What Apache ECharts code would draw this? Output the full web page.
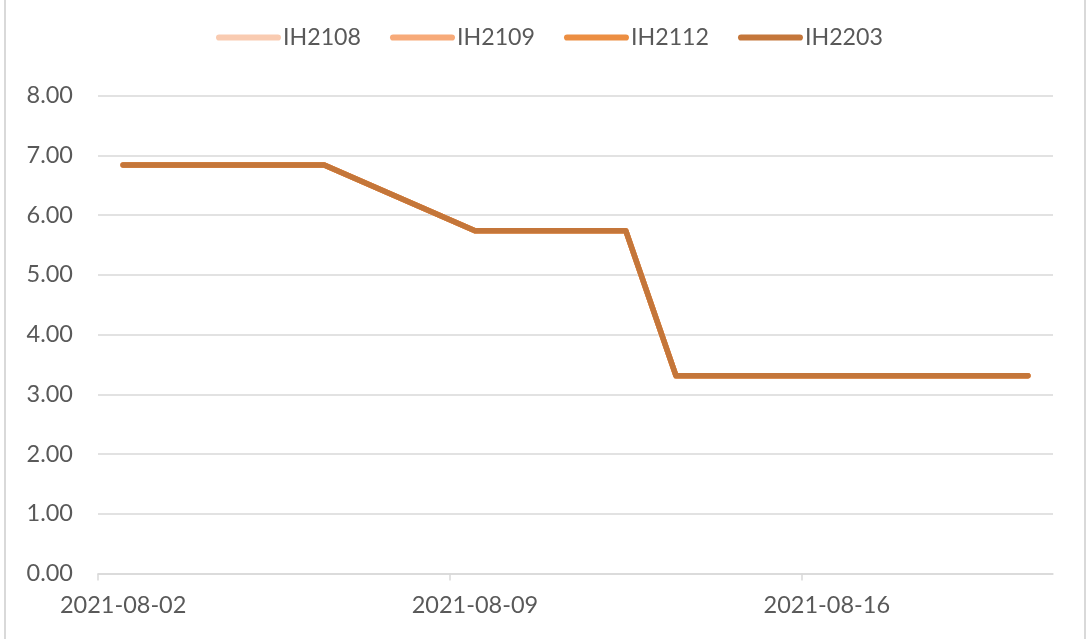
<!DOCTYPE html>
<html>
<head>
<meta charset="utf-8">
<script src="https://cdn.jsdelivr.net/npm/echarts@6/dist/echarts.min.js"></script>
<style>
  html, body { margin: 0; padding: 0; background: #fff; }
  #wrap { position: relative; width: 1086px; height: 639px; overflow: hidden; }
  #chart { position: absolute; left: 0; top: 0; width: 1086px; height: 639px; }
  .edge { position: absolute; top: 0; bottom: 0; width: 2px; background: #d9d9d9; }
</style>
</head>
<body>
<div id="wrap">
  <div id="chart"></div>
  <div class="edge" style="left:4px"></div>
  <div class="edge" style="left:1084px"></div>
</div>
<script>
// Calendar days on the date axis (weekends carry no data)
const categories = [
  '2021-08-02','2021-08-03','2021-08-04','2021-08-05','2021-08-06','2021-08-07','2021-08-08',
  '2021-08-09','2021-08-10','2021-08-11','2021-08-12','2021-08-13','2021-08-14','2021-08-15',
  '2021-08-16','2021-08-17','2021-08-18','2021-08-19','2021-08-20'
];
const seriesNames = ['IH2108', 'IH2109', 'IH2112', 'IH2203'];
const valuesIH2108 = [6.84,6.84,6.84,6.84,6.84,null,null,5.74,5.74,5.74,5.74,3.31,null,null,3.31,3.31,3.31,3.31,3.31];
const valuesIH2109 = [6.84,6.84,6.84,6.84,6.84,null,null,5.74,5.74,5.74,5.74,3.31,null,null,3.31,3.31,3.31,3.31,3.31];
const valuesIH2112 = [6.84,6.84,6.84,6.84,6.84,null,null,5.74,5.74,5.74,5.74,3.31,null,null,3.31,3.31,3.31,3.31,3.31];
const valuesIH2203 = [6.84,6.84,6.84,6.84,6.84,null,null,5.74,5.74,5.74,5.74,3.31,null,null,3.31,3.31,3.31,3.31,3.31];
const seriesColors = ['#F9CBB1', '#F7AA79', '#EC8E42', '#C4763A'];
const yTicks = { min: 0, max: 8, interval: 1 };
// week boundaries (day offsets from 2021-08-02) where the date axis has tick marks
const weekTickDays = [0, 7, 14];

const allValues = [valuesIH2108, valuesIH2109, valuesIH2112, valuesIH2203];
const FONT = 'Lato';
const TXT = '#595959';
const GRID_C = '#D9D9D9';
const legendIcon = 'path://M3,0 L60,0 A3,3 0 0 1 60,6 L3,6 A3,3 0 0 1 3,0 Z';

const chart = echarts.init(document.getElementById('chart'), null, { renderer: 'canvas' });
chart.setOption({
  animation: false,
  backgroundColor: 'transparent',
  color: seriesColors,
  legend: {
    top: 21,
    left: 211,
    itemWidth: 65,
    itemHeight: 14,
    itemGap: 29,
    data: seriesNames.map(n => ({ name: n, icon: legendIcon })),
    textStyle: { fontFamily: FONT, fontSize: 23.2, color: TXT, padding: [0, 0, 0, -3] }
  },
  grid: { left: 98, right: 33, top: 95.7, bottom: 65.5, containLabel: false, outerBoundsMode: 'none' },
  xAxis: [{
    type: 'category',
    data: categories,
    boundaryGap: true,
    axisLine: { show: true, lineStyle: { color: GRID_C, width: 1.5 } },
    axisTick: { show: false },
    axisLabel: { interval: 6, margin: 20, fontFamily: FONT, fontSize: 23.5, color: TXT },
    splitLine: { show: false }
  }, {
    type: 'value',
    position: 'bottom',
    min: 0,
    max: categories.length,
    interval: 7,
    axisLine: { show: false },
    axisTick: { show: true, customValues: weekTickDays, length: 7, inside: false, lineStyle: { color: GRID_C, width: 1.5 } },
    axisLabel: { show: false },
    splitLine: { show: false }
  }],
  yAxis: {
    type: 'value',
    min: yTicks.min,
    max: yTicks.max,
    interval: yTicks.interval,
    axisLine: { show: false },
    axisTick: { show: false },
    axisLabel: { margin: 25, fontFamily: FONT, fontSize: 23.5, color: TXT, formatter: v => v.toFixed(2) },
    splitLine: { show: true, lineStyle: { color: GRID_C, width: 1.5 } }
  },
  series: seriesNames.map((name, i) => ({
    name: name,
    type: 'line',
    xAxisIndex: 0,
    data: allValues[i],
    connectNulls: true,
    symbol: 'none',
    lineStyle: { width: 5.5, color: seriesColors[i], cap: 'round', join: 'round' },
    itemStyle: { color: seriesColors[i] }
  }))
});
</script>
</body>
</html>
